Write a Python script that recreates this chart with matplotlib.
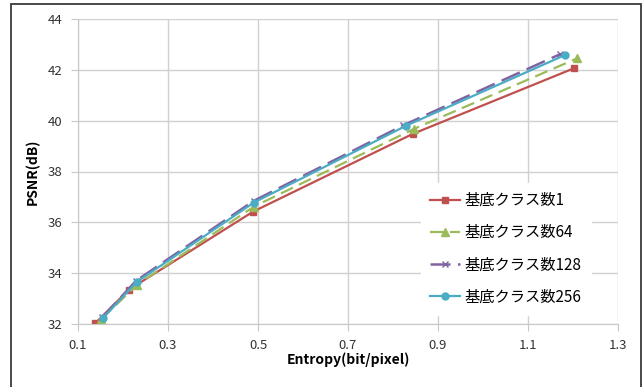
import matplotlib.pyplot as plt
from matplotlib.patches import Rectangle

plt.rcParams['font.family'] = ['Noto Sans CJK JP', 'DejaVu Sans']

# Entropy (bit/pixel) and PSNR (dB) per number of base classes
x_c1 = [0.138, 0.213, 0.489, 0.844, 1.202]
y_c1 = [32.02, 33.35, 36.42, 39.48, 42.06]
x_c64 = [0.152, 0.231, 0.491, 0.847, 1.209]
y_c64 = [32.20, 33.54, 36.62, 39.68, 42.45]
x_c128 = [0.154, 0.229, 0.490, 0.823, 1.172]
y_c128 = [32.26, 33.70, 36.84, 39.82, 42.62]
x_c256 = [0.156, 0.231, 0.491, 0.829, 1.182]
y_c256 = [32.24, 33.66, 36.78, 39.80, 42.58]

labels = ['基底クラス数1', '基底クラス数64', '基底クラス数128', '基底クラス数256']
xticks = [0.1, 0.3, 0.5, 0.7, 0.9, 1.1, 1.3]
yticks = [32, 34, 36, 38, 40, 42, 44]

fig = plt.figure(figsize=(6.43, 3.87), dpi=100)
fig.patches.append(Rectangle((11 / 643, -0.05), 630 / 643, 1 - 4 / 387 + 0.05,
                             transform=fig.transFigure, fill=False,
                             edgecolor='#3a3a3a', linewidth=1.3))
ax = fig.add_axes([78 / 643, 1 - 324 / 387, 540 / 643, 305 / 387])

ax.plot(x_c1, y_c1, color='#C0504D', marker='s', markersize=5, lw=1.6, label=labels[0])
ax.plot(x_c64, y_c64, color='#9BBB59', marker='^', markersize=5.5, lw=1.6,
        dashes=(6, 3), label=labels[1])
ax.plot(x_c128, y_c128, color='#8064A2', marker='x', markersize=5, lw=1.8,
        dashes=(8, 3), label=labels[2])
ax.plot(x_c256, y_c256, color='#4BACC6', marker='o', markersize=5, lw=1.6, label=labels[3])

ax.set_xlim(0.1, 1.3)
ax.set_ylim(32, 44)
ax.set_xticks(xticks)
ax.set_yticks(yticks)
ax.set_xticklabels([f'{v:.1f}' for v in xticks])
ax.grid(True, color='#d0d0d0', lw=1)
ax.set_axisbelow(True)
for s in ['top', 'right']:
    ax.spines[s].set_visible(False)
for s in ['left', 'bottom']:
    ax.spines[s].set_color('#c8c8c8')
ax.tick_params(length=5, color='#c8c8c8', labelsize=9.5, labelcolor='#333333', pad=6)

ax.set_xlabel('Entropy(bit/pixel)', fontsize=10, fontweight='bold', labelpad=0)
ax.set_ylabel('PSNR(dB)', fontsize=10, fontweight='bold', labelpad=6)

leg = ax.legend(loc='lower right', bbox_to_anchor=(0.95, 0.03), frameon=True,
                fontsize=11, handlelength=2.0, labelspacing=1.0, borderpad=0.6,
                handletextpad=0.3, borderaxespad=0)
leg.get_frame().set_facecolor('white')
leg.get_frame().set_edgecolor('white')
leg.get_frame().set_alpha(1)

fig.savefig('out.png', dpi=100)
